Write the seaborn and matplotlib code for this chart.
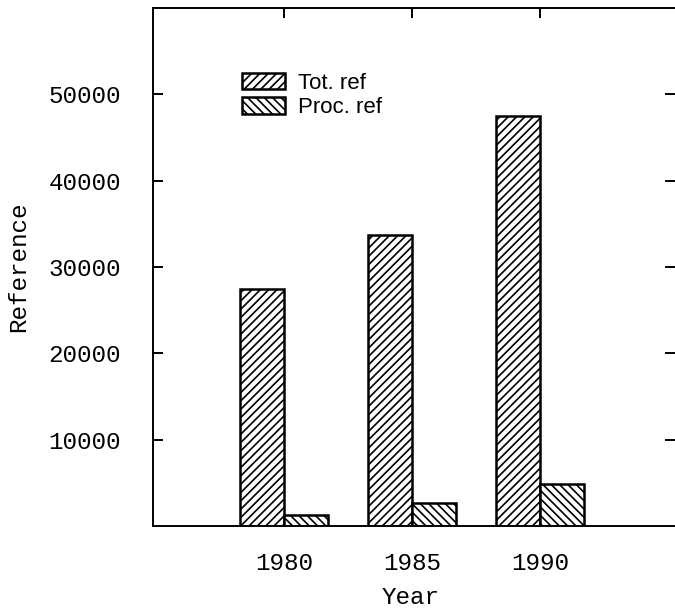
import matplotlib
matplotlib.use("Agg")
import matplotlib.pyplot as plt
import seaborn as sns
import pandas as pd

years = ["1980", "1985", "1990"]
tot_ref = [27500, 33700, 47500]
proc_ref = [1300, 2650, 4850]
series_names = ["Tot. ref", "Proc. ref"]
ytick_values = [10000, 20000, 30000, 40000, 50000]

df = pd.DataFrame({
    "Year": years * 2,
    "Reference": tot_ref + proc_ref,
    "Series": [series_names[0]] * 3 + [series_names[1]] * 3,
})

sns.set_style("white")
plt.rcParams["hatch.linewidth"] = 1.2
plt.rcParams["text.color"] = "black"
mono = "Liberation Mono"
fs = 17.5

fig = plt.figure(figsize=(6.75, 6.11), dpi=100)
ax = fig.add_axes([153 / 675, 1 - 526 / 611, 522 / 675, 518 / 611])

sns.barplot(data=df, x="Year", y="Reference", hue="Series", order=years,
            hue_order=series_names, palette=["white", "white"],
            edgecolor="black", linewidth=1.8, width=0.69, gap=0,
            ax=ax, legend=True)

hatches = {series_names[0]: "////", series_names[1]: "\\\\\\\\"}
for container, name in zip(ax.containers, series_names):
    for bar in container:
        bar.set_hatch(hatches[name])
        bar.set_facecolor("white")
        bar.set_edgecolor("black")

ax.set_xlim(-1.023, 3.055)
ax.set_ylim(0, 60000)
ax.set_yticks(ytick_values)
ax.set_yticklabels([str(v) for v in ytick_values], family=mono, fontsize=fs, color="black")
ax.set_xticks(range(len(years)))
ax.set_xticklabels(years, family=mono, fontsize=fs, color="black")

for s in ax.spines.values():
    s.set_visible(True)
    s.set_color("black")
    s.set_linewidth(1.4)
ax.spines["right"].set_visible(False)

ax.tick_params(axis="x", bottom=False, top=True, labelbottom=True, labeltop=False,
               direction="in", length=7, width=1.4, pad=19, colors="black")
ax.tick_params(axis="y", left=True, right=True, direction="in", length=7,
               width=1.4, pad=23, colors="black")

ax.set_ylabel("Reference", family=mono, fontsize=fs, color="black")
ax.set_xlabel("Year", family=mono, fontsize=fs, color="black")
ax.yaxis.set_label_coords(-0.235, 0.5)
ax.xaxis.set_label_coords(0.494, -0.115)

handles, labels = ax.get_legend_handles_labels()
ax.get_legend().remove()
for h, name in zip(handles, labels):
    h.set_hatch(hatches[name])
    h.set_facecolor("white")
    h.set_edgecolor("black")
fig.legend(handles, labels, loc="upper left", bbox_to_anchor=(242 / 675, 1 - 73 / 611),
           frameon=False, prop={"family": "Liberation Sans", "size": 16},
           handlelength=1.95, handleheight=0.75, labelspacing=0.15,
           handletextpad=0.55, borderpad=0, borderaxespad=0)

fig.savefig("out.png", dpi=100)
